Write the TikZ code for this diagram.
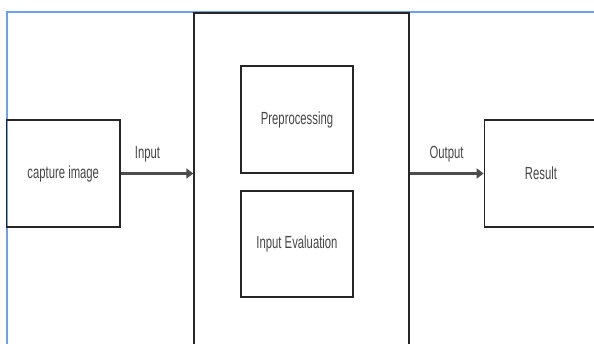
\documentclass[tikz,border=0pt]{standalone}
\usepackage{fontspec}
\usepackage{graphicx}
\setmainfont{Liberation Sans}
\usetikzlibrary{arrows.meta}
\definecolor{frameblue}{RGB}{110,160,235}
\definecolor{textgray}{RGB}{70,70,70}
% tall narrow lettering
\newcommand{\tall}[1]{\scalebox{1}[1.55]{#1}}

\begin{document}
\begin{tikzpicture}[x=1pt, y=-1pt,
	block/.style={draw=black!85, line width=1.3pt, minimum width=113.5pt, minimum height=107pt, inner sep=0pt, text=textgray, font=\fontsize{11.3}{13}\selectfont},
	inner/.style={block, minimum width=112pt},
	flow/.style={draw=black!70, line width=2.2pt, -{Triangle[length=7pt,width=10pt]}},
	lbl/.style={text=textgray, inner sep=0pt, font=\fontsize{11.3}{13}\selectfont}]
		\useasboundingbox (0,0) rectangle (594,344);
		\clip (0,0) rectangle (594,344);

		% draw page frame
		\draw[frameblue, line width=2pt] (594,12.5) -- (6.5,12.5) -- (6.5,344);

		% draw outer stage box, bottom runs off the page
		\node[block, minimum width=215pt, minimum height=350pt] (stage) at (301.5,188) {};

		% draw nodes
		\node[block] (capture) at (63.25,173.5) {\tall{capture image}};
		\node[inner] (prep) at (297,119.5) {\tall{Preprocessing}};
		\node[inner, minimum height=106pt] (eval) at (297,244) {\tall{Input Evaluation}};
		\node[block] (result) at (541,173.5) {\tall{Result}};

		% draw arrows
		\draw[flow] (capture.east) -- (capture.east -| stage.west) node[lbl, pos=0.37, above=10pt] {\tall{Input}};
		\draw[flow] (stage.east |- result.west) -- (result.west) node[lbl, midway, above=10pt] {\tall{Output}};
	\end{tikzpicture}
\end{document}
